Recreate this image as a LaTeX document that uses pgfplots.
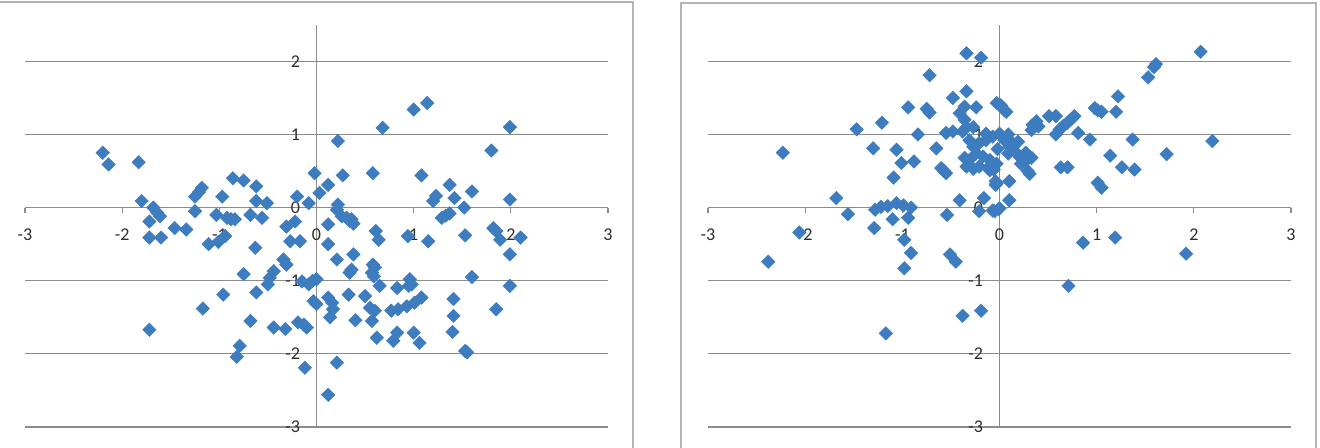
\documentclass[border=0pt]{standalone}
\usepackage{pgfplots}
\pgfplotsset{compat=1.18}
\usepackage{fontspec}
\setmainfont{Carlito}
\definecolor{mk}{RGB}{62,124,192}
\definecolor{gridc}{RGB}{140,140,140}
\definecolor{framec}{RGB}{180,180,180}
\definecolor{lab}{RGB}{45,45,45}
\pgfplotsset{
  exstyle/.style={
    scale only axis, width=291.5pt, height=201.15pt,
    xmin=-3, xmax=3, ymin=-3, ymax=2.5,
    axis lines=middle, axis line style={-, draw=gridc, line width=0.6pt},
    hide obscured x ticks=false, hide obscured y ticks=false,
    xtick={-3,-2,-1,0,1,2,3}, xticklabels={-3,-2,-1,0,1,2,3},
    ytick={-3,-2,-1,0,1,2}, yticklabels={-3,-2,-1,0,1,2},
    ymajorgrids, grid style={draw=gridc, line width=0.6pt},
    xtick align=outside, major tick length=2.5pt,
    xtick style={draw=gridc, line width=0.6pt},
    ytick style={draw=none},
    tick label style={font=\fontsize{9}{10}\selectfont, text=lab},
    xticklabel style={yshift=-4.5pt},
    yticklabel style={xshift=-3.5pt},
    clip=false, anchor=south west,
  },
  exmark/.style={only marks, mark=square*, mark size=2.4pt,
    mark options={rotate=45, fill=mk, draw=mk, line width=0.2pt}},
}
\begin{document}
\begin{tikzpicture}[x=1pt,y=1pt]
\draw[framec, line width=0.7pt] (0,222.5) -- (316.5,222.5) -- (316.5,-20);
\draw[framec, line width=0.7pt] (340.5,-20) -- (340.5,222) -- (658,222) -- (658,-20);
\begin{axis}[exstyle, at={(12.5pt,10pt)}]
\addplot[exmark] table {
x y
-2.20 0.75
-2.14 0.59
-1.83 0.62
-1.80 0.09
-1.68 0.00
-1.64 -0.07
-1.61 -0.12
-1.72 -0.19
-1.72 -0.41
-1.60 -0.41
-1.46 -0.28
-1.34 -0.30
-1.25 -0.05
-1.25 0.15
-1.18 0.27
-1.21 0.21
-0.97 0.15
-1.03 -0.10
-0.92 -0.14
-0.84 -0.16
-0.88 -0.16
-0.86 0.40
-0.75 0.37
-0.68 -0.10
-0.62 0.29
-0.62 0.09
-0.56 -0.14
-0.51 0.06
-0.63 -0.55
-1.11 -0.50
-1.01 -0.47
-0.94 -0.39
-0.31 -0.26
-0.22 -0.19
-0.27 -0.46
-0.17 -0.46
-0.20 0.15
-0.08 0.06
-0.02 0.47
0.03 0.20
-0.34 -0.71
-0.31 -0.78
-0.44 -0.87
-0.48 -0.96
-0.50 -1.05
-0.75 -0.91
-0.62 -1.16
-0.96 -1.19
-1.17 -1.38
-1.72 -1.67
-0.68 -1.55
-0.44 -1.64
-0.32 -1.66
-0.19 -1.57
-0.10 -1.64
-0.13 -1.60
-0.79 -1.89
-0.82 -2.04
-0.12 -2.19
-0.15 -1.01
-0.04 -1.00
-0.03 -1.28
-0.08 -1.05
0.00 -1.32
0.12 0.31
0.22 0.91
0.27 0.44
0.68 1.09
0.58 0.47
1.00 1.34
1.14 1.43
1.08 0.44
1.37 0.31
1.23 0.16
1.20 0.09
1.42 0.13
1.60 0.22
1.52 0.00
1.80 0.78
1.99 1.10
1.99 0.11
1.29 -0.14
1.33 -0.11
1.37 -0.08
0.21 -0.03
0.22 0.04
0.26 -0.12
0.31 -0.14
0.34 -0.18
0.38 -0.22
0.36 -0.16
0.12 -0.23
0.61 -0.32
0.64 -0.44
0.94 -0.39
1.15 -0.46
1.53 -0.38
1.82 -0.28
1.85 -0.32
1.89 -0.44
2.10 -0.41
0.12 -0.50
1.99 -0.64
0.21 -0.71
0.38 -0.64
0.36 -0.85
0.34 -0.89
0.58 -0.78
0.60 -0.82
0.57 -0.89
0.59 -0.94
0.65 -1.07
0.00 -0.98
0.12 -1.23
0.16 -1.30
0.17 -1.39
0.14 -1.50
0.33 -1.19
0.50 -1.21
0.40 -1.54
0.55 -1.37
0.60 -1.41
0.57 -1.55
0.62 -1.78
0.83 -1.10
0.96 -0.98
0.98 -1.05
0.95 -1.07
0.77 -1.41
0.84 -1.39
0.93 -1.35
1.01 -1.30
1.08 -1.23
0.83 -1.71
0.79 -1.82
1.00 -1.71
1.06 -1.85
1.41 -1.25
1.41 -1.48
1.40 -1.70
1.55 -1.98
1.53 -1.96
1.60 -0.95
1.99 -1.07
1.85 -1.39
0.21 -2.12
0.12 -2.56
};
\end{axis}
\begin{axis}[exstyle, at={(354pt,10pt)}]
\addplot[exmark] table {
x y
-0.34 2.11
-0.19 2.05
-0.72 1.81
-0.48 1.50
-0.34 1.59
-0.24 1.37
-0.41 1.29
-0.36 1.38
-0.36 1.20
-0.94 1.37
-0.75 1.35
-0.72 1.30
-1.21 1.16
-1.47 1.07
-0.84 1.00
-0.55 1.02
-0.48 1.04
-1.30 0.81
-1.06 0.79
-0.65 0.81
-2.23 0.75
-1.01 0.61
-0.88 0.63
-0.60 0.54
-0.55 0.47
-0.57 0.50
-1.09 0.41
-0.03 1.43
0.02 1.39
0.05 1.33
-0.34 1.10
-0.27 1.10
-0.38 1.04
-0.36 0.68
-0.34 0.56
-0.27 0.53
-0.09 0.58
-0.06 0.52
-0.04 0.36
-0.31 0.92
-0.27 0.83
-0.21 0.88
-0.14 0.92
-0.07 0.97
0.00 1.01
0.05 0.92
-0.24 0.74
-0.17 0.70
-0.10 0.65
-0.03 0.60
-0.31 0.65
-0.21 0.56
-0.10 0.51
-0.14 1.01
0.09 0.74
0.10 0.83
-0.02 0.80
0.07 0.95
0.15 0.85
0.12 0.90
-1.68 0.13
-1.56 -0.09
-1.28 -0.03
-1.22 0.01
-1.15 0.02
-1.06 0.06
-0.99 0.03
-0.91 0.00
-0.94 -0.14
-1.10 -0.16
-1.29 -0.28
-2.06 -0.34
-2.38 -0.74
-0.98 -0.44
-0.91 -0.62
-0.98 -0.83
-0.51 -0.64
-0.45 -0.74
-0.54 -0.10
-0.41 0.10
-0.16 0.13
-0.21 -0.05
-0.07 -0.04
-0.01 -0.02
-0.04 0.31
-0.38 -1.48
-0.19 -1.41
-1.17 -1.72
2.07 2.13
1.61 1.96
1.59 1.92
1.53 1.78
1.22 1.52
1.20 1.31
0.98 1.36
1.05 1.31
1.01 1.33
0.51 1.25
0.58 1.25
0.77 1.25
0.74 1.21
0.70 1.16
0.66 1.12
0.62 1.07
0.58 1.00
0.38 1.18
0.40 1.11
0.33 1.06
0.81 1.02
0.93 0.93
1.37 0.93
2.19 0.91
1.14 0.71
1.72 0.73
1.26 0.55
1.39 0.52
0.63 0.55
0.70 0.55
1.01 0.34
1.05 0.27
0.10 0.36
0.29 0.50
0.31 0.46
0.21 0.69
0.27 0.75
0.33 0.68
0.22 0.60
0.00 1.41
0.07 1.31
0.09 1.00
0.19 0.90
0.10 0.10
0.00 -0.01
-0.05 -0.05
0.86 -0.48
1.19 -0.41
1.92 -0.63
0.71 -1.07
0.34 1.13
0.28 0.65
-0.03 0.33
0.15 0.78
};
\end{axis}
\pgfresetboundingbox
\path (0,0) rectangle (660,223.5);
\end{tikzpicture}
\end{document}
